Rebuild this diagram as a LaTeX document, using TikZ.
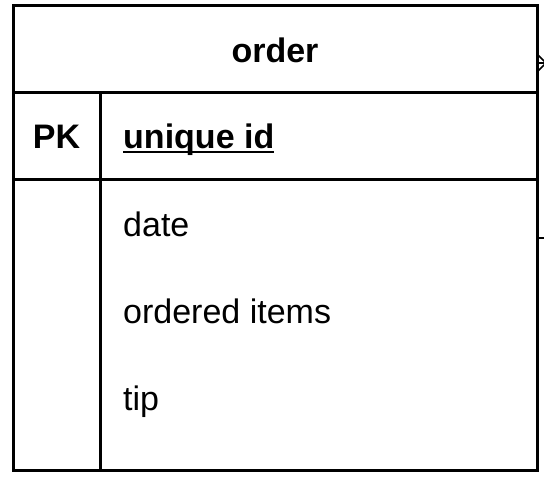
\documentclass[tikz,border=0pt]{standalone}
\usepackage{fontspec}
\setmainfont{Liberation Sans}

\begin{document}
\begin{tikzpicture}[x=1bp,y=-1bp,
  frame/.style={line width=3bp,line cap=rect},
  stub/.style={line width=1.5bp},
  field/.style={anchor=base west,inner sep=0pt,font=\fontsize{34bp}{40bp}\selectfont},
  title/.style={anchor=base,inner sep=0pt,font=\fontsize{34bp}{40bp}\selectfont\bfseries}]
  \useasboundingbox (0,0) rectangle (544,483);
  \def\boxL{13};
  \def\boxR{537};
  \def\boxT{6};
  \def\boxB{470};
  \def\colX{100};
  \def\textX{123};
  % table frame
  \draw[frame] (\boxL,\boxT) rectangle (\boxR,\boxB);
  \draw[frame] (\boxL,93) -- (\boxR,93);
  \draw[frame] (\boxL,180) -- (\boxR,180);
  \draw[frame] (\colX,93) -- (\colX,\boxB);
  %
  \node[title] (order) at (275,63) {order};
  \node[title] (pk) at (56.5,149) {PK};
  \node[field,font=\fontsize{34bp}{40bp}\selectfont\bfseries] (uid) at (\textX,149) {unique id};
  \draw[line width=1.5bp] ([yshift=-3bp]uid.base west) -- ([yshift=-3bp]uid.base east);
  \node[field] (date) at (\textX,236) {date};
  \node[field] (items) at (\textX,323) {ordered items};
  \node[field] (tip) at (\textX,410) {tip};
  % connector ends cut off at the right
  \coordinate (footA) at (\boxR,54);
  \coordinate (footB) at (\boxR,63);
  \coordinate (footC) at (\boxR,72);
  \coordinate (footX) at (546,63);
  \draw[stub] (footA) -- (footX);
  \draw[stub] (footB) -- (footX);
  \draw[stub] (footC) -- (footX);
  \coordinate (lineA) at (\boxR,238);
  \coordinate (lineX) at (546,238);
  \draw[stub] (lineA) -- (lineX);
\end{tikzpicture}
\end{document}
